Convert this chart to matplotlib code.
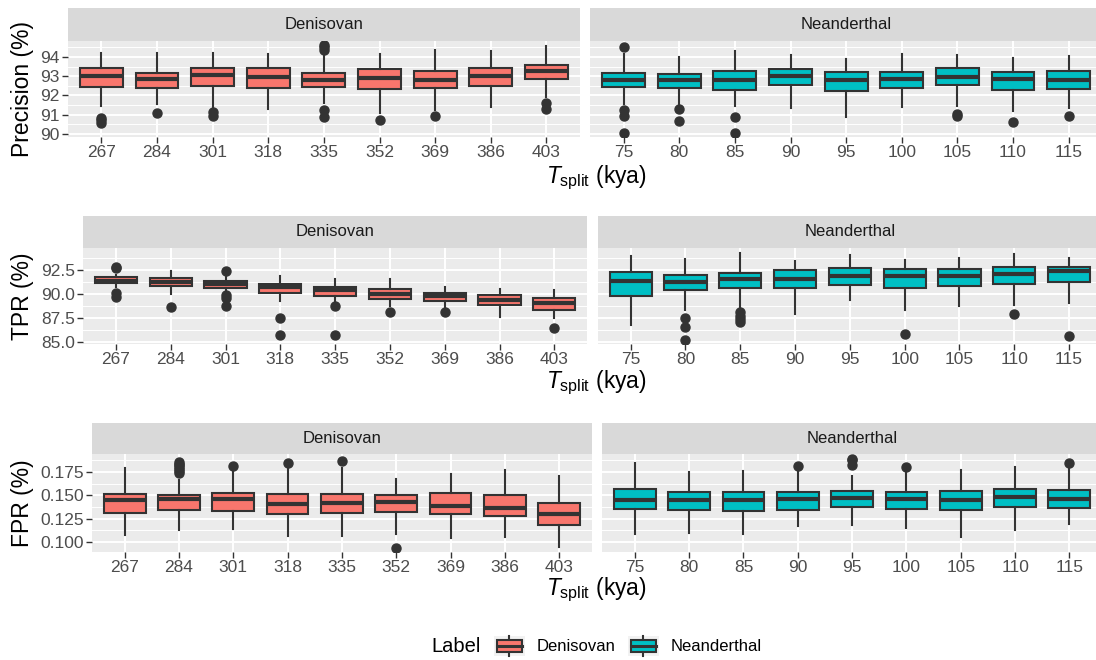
import matplotlib
matplotlib.use("Agg")
import matplotlib.pyplot as plt
from matplotlib.patches import Rectangle, Patch
from matplotlib.lines import Line2D
from matplotlib.legend_handler import HandlerBase

plt.rcParams["font.family"] = "Liberation Sans"
plt.rcParams["mathtext.fontset"] = "custom"
plt.rcParams["mathtext.rm"] = "Liberation Sans"
plt.rcParams["mathtext.it"] = "Liberation Sans:italic"

# T_split categories (kya)
den_tsplit = [267, 284, 301, 318, 335, 352, 369, 386, 403]
nea_tsplit = [75, 80, 85, 90, 95, 100, 105, 110, 115]

# box stats: (lower whisker, q1, median, q3, upper whisker)
prec_den_stats = [(91.46, 92.42, 93.00, 93.42, 94.22), (91.56, 92.37, 92.85, 93.19, 94.22),
                  (91.42, 92.50, 93.04, 93.42, 94.22), (91.30, 92.40, 92.97, 93.43, 94.14),
                  (91.63, 92.42, 92.80, 93.19, 94.09), (91.11, 92.32, 92.92, 93.35, 94.17),
                  (91.25, 92.37, 92.80, 93.26, 94.34), (91.42, 92.50, 93.00, 93.45, 94.31),
                  (91.90, 92.87, 93.26, 93.60, 94.57)]
prec_den_out = [[90.82, 90.70, 90.55], [91.11], [91.13, 90.94], [], [94.64, 94.52, 94.38, 91.25, 90.87],
                [90.74], [90.91], [], [91.63, 91.28]]
prec_nea_stats = [(91.56, 92.45, 92.80, 93.18, 94.14), (91.51, 92.38, 92.80, 93.14, 94.00),
                  (91.46, 92.28, 92.80, 93.28, 94.29), (91.34, 92.54, 93.02, 93.40, 94.09),
                  (90.86, 92.25, 92.78, 93.23, 93.90), (91.42, 92.37, 92.85, 93.23, 94.17),
                  (91.46, 92.52, 92.97, 93.42, 94.09), (91.18, 92.28, 92.83, 93.24, 93.97),
                  (91.34, 92.32, 92.80, 93.26, 94.03)]
prec_nea_out = [[94.52, 91.22, 90.91, 90.05], [91.29, 90.65], [90.86, 90.05], [], [], [],
                [91.04, 90.91], [90.60], [90.91]]

tpr_den_stats = [(90.75, 91.12, 91.39, 91.81, 91.95), (89.98, 90.84, 91.29, 91.70, 92.43),
                 (90.25, 90.67, 91.05, 91.36, 91.74), (89.32, 90.08, 90.70, 91.01, 91.88),
                 (89.22, 89.84, 90.43, 90.70, 91.57), (88.77, 89.46, 90.01, 90.50, 91.57),
                 (88.63, 89.29, 89.80, 90.08, 90.77), (87.66, 88.90, 89.39, 89.91, 90.56),
                 (87.49, 88.35, 89.04, 89.60, 90.43)]
tpr_den_out = [[92.85, 92.67, 90.15, 89.73], [88.70], [92.40, 89.90, 89.56, 88.80], [87.49, 85.76],
               [88.80, 85.69], [88.11], [88.11], [], [86.45]]
tpr_nea_stats = [(86.80, 89.80, 91.36, 92.26, 93.95), (88.35, 90.39, 91.29, 91.95, 93.61),
                 (88.70, 90.60, 91.57, 92.15, 94.30), (87.94, 90.63, 91.60, 92.47, 93.47),
                 (89.39, 90.98, 91.91, 92.71, 94.02), (88.35, 90.60, 91.91, 92.60, 93.50),
                 (88.77, 90.88, 91.91, 92.57, 93.71), (88.87, 91.01, 92.09, 92.81, 94.16),
                 (89.11, 91.26, 92.43, 92.81, 93.81)]
tpr_nea_out = [[], [87.56, 86.62, 85.21], [88.18, 87.76, 87.42, 87.07], [], [], [85.86], [],
               [87.97], [85.59]]

fpr_den_stats = [(0.1071, 0.1311, 0.1446, 0.1511, 0.1796), (0.1125, 0.1346, 0.1457, 0.1507, 0.1661),
                 (0.1136, 0.1332, 0.1457, 0.1529, 0.1775), (0.1061, 0.1296, 0.1411, 0.1518, 0.1796),
                 (0.1061, 0.1314, 0.1418, 0.1511, 0.1796), (0.1089, 0.1321, 0.1429, 0.1500, 0.1679),
                 (0.1046, 0.1304, 0.1389, 0.1525, 0.1725), (0.1054, 0.1275, 0.1364, 0.1500, 0.1768),
                 (0.0946, 0.1179, 0.1300, 0.1421, 0.1704)]
fpr_den_out = [[], [0.1855, 0.1840, 0.1820, 0.1800, 0.1780, 0.1760, 0.1740], [0.1814], [0.1850],
               [0.1868], [0.0936], [], [], []]
fpr_nea_stats = [(0.1089, 0.1354, 0.1454, 0.1571, 0.1846), (0.1100, 0.1346, 0.1454, 0.1532, 0.1754),
                 (0.1082, 0.1329, 0.1446, 0.1532, 0.1757), (0.1171, 0.1346, 0.1461, 0.1536, 0.1750),
                 (0.1179, 0.1371, 0.1475, 0.1546, 0.1711), (0.1154, 0.1350, 0.1461, 0.1532, 0.1750),
                 (0.1054, 0.1339, 0.1454, 0.1546, 0.1775), (0.1132, 0.1371, 0.1482, 0.1571, 0.1804),
                 (0.1189, 0.1364, 0.1457, 0.1554, 0.1796)]
fpr_nea_out = [[], [], [], [0.1811], [0.1893, 0.1875, 0.1829], [0.1804], [], [], [0.1850]]

DEN_COL = "#F8766D"
NEA_COL = "#00BFC4"
LINE_COL = "#333333"

W, H = 1096, 660
fig = plt.figure(figsize=(W / 100, H / 100), dpi=100)


def px_axes(x0, y0, x1, y1):
    return fig.add_axes([x0 / W, 1 - y1 / H, (x1 - x0) / W, (y1 - y0) / H])


def draw_panel(ax, cats, stats, outs, color, ylim, majors, minors, fmt, show_y):
    bstats = [dict(whislo=s[0], q1=s[1], med=s[2], q3=s[3], whishi=s[4], fliers=o)
              for s, o in zip(stats, outs)]
    ax.bxp(bstats, positions=range(len(cats)), widths=0.77, patch_artist=True, showcaps=False,
           boxprops=dict(facecolor=color, edgecolor=LINE_COL, linewidth=1.5),
           medianprops=dict(color=LINE_COL, linewidth=3.0),
           whiskerprops=dict(color=LINE_COL, linewidth=1.5),
           flierprops=dict(marker="o", markerfacecolor=LINE_COL, markeredgecolor=LINE_COL,
                           markersize=6.5))
    ax.set_xlim(-0.6, len(cats) - 0.4)
    ax.set_ylim(ylim)
    ax.set_xticks(range(len(cats)), [str(c) for c in cats])
    ax.set_yticks(majors, [fmt % v for v in majors])
    ax.set_yticks(minors, minor=True)
    ax.set_facecolor("#EBEBEB")
    ax.set_axisbelow(True)
    ax.grid(which="major", color="white", linewidth=1.4)
    ax.grid(which="minor", axis="y", color="white", linewidth=0.7)
    for sp in ax.spines.values():
        sp.set_visible(False)
    ax.tick_params(which="minor", length=0)
    ax.tick_params(which="major", length=4, width=1.0, color=LINE_COL, labelcolor="#4D4D4D",
                   labelsize=12.5, pad=2)
    if not show_y:
        ax.tick_params(axis="y", left=False, labelleft=False)


def draw_strip(x0, y0, x1, y1, name):
    sax = px_axes(x0, y0, x1, y1)
    sax.set_facecolor("#D9D9D9")
    sax.set_xticks([])
    sax.set_yticks([])
    for sp in sax.spines.values():
        sp.set_visible(False)
    sax.text(0.5, 0.5, name, ha="center", va="center", color="#1A1A1A", fontsize=12,
             transform=sax.transAxes)


rows = [
    ("Precision (%)", prec_den_stats, prec_den_out, prec_nea_stats, prec_nea_out,
     (89.84, 94.83), [90, 91, 92, 93, 94], [90.5, 91.5, 92.5, 93.5, 94.5], "%d"),
    ("TPR (%)", tpr_den_stats, tpr_den_out, tpr_nea_stats, tpr_nea_out,
     (84.8, 94.8), [85.0, 87.5, 90.0, 92.5], [86.25, 88.75, 91.25, 93.75], "%.1f"),
    ("FPR (%)", fpr_den_stats, fpr_den_out, fpr_nea_stats, fpr_nea_out,
     (0.0893, 0.1943), [0.100, 0.125, 0.150, 0.175], [0.1125, 0.1375, 0.1625, 0.1875], "%.3f"),
]

strip_top = [8, 216, 423]
panel_top = [41, 248, 454]
panel_bot = [137, 344, 552]
left_x = [68, 83, 92]
right_end = 1102
gap = 10.5
xlab_y = [178, 383, 590]

xlabel = r"$\mathit{T}_{\mathrm{split}}$ (kya)"

for i, (ylab, ds, do, ns, no, ylim, majors, minors, fmt) in enumerate(rows):
    pw = (right_end - left_x[i] - gap) / 2
    lx0, lx1 = left_x[i], left_x[i] + pw
    rx0, rx1 = lx1 + gap, right_end
    axl = px_axes(lx0, panel_top[i], lx1, panel_bot[i])
    axr = px_axes(rx0, panel_top[i], rx1, panel_bot[i])
    draw_panel(axl, den_tsplit, ds, do, DEN_COL, ylim, majors, minors, fmt, True)
    draw_panel(axr, nea_tsplit, ns, no, NEA_COL, ylim, majors, minors, fmt, False)
    draw_strip(lx0, strip_top[i], lx1, panel_top[i], "Denisovan")
    draw_strip(rx0, strip_top[i], rx1, panel_top[i], "Neanderthal")
    fig.text(22 / W, 1 - (panel_top[i] + panel_bot[i]) / 2 / H, ylab, rotation=90,
             ha="center", va="center", fontsize=16.5)
    fig.text(596 / W, 1 - xlab_y[i] / H, xlabel, ha="center", va="center", fontsize=16.5)


class BoxKey(HandlerBase):
    def create_artists(self, legend, orig_handle, xdescent, ydescent, width, height,
                       fontsize, trans):
        x0, y0 = -xdescent, -ydescent
        bg = Rectangle((x0, y0), width, height, facecolor="#F2F2F2", edgecolor="none",
                       transform=trans)
        cx = x0 + width / 2
        wl = Line2D([cx, cx], [y0, y0 + height], color=LINE_COL, linewidth=1.5, transform=trans)
        box = Rectangle((x0 + width * 0.1, y0 + height * 0.23), width * 0.8, height * 0.54,
                        facecolor=orig_handle.get_facecolor(), edgecolor=LINE_COL,
                        linewidth=1.5, transform=trans)
        med = Line2D([x0 + width * 0.1, x0 + width * 0.9], [y0 + height / 2] * 2,
                     color=LINE_COL, linewidth=2.2, transform=trans)
        return [bg, wl, box, med]


handles = [Patch(facecolor=DEN_COL), Patch(facecolor=NEA_COL)]
fig.legend(handles, ["Denisovan", "Neanderthal"], loc="center left",
           bbox_to_anchor=(494 / W, 1 - 646 / H), ncol=2, frameon=False, fontsize=12,
           handlelength=1.85, handleheight=1.55, handletextpad=0.7, columnspacing=0.75,
           borderpad=0, borderaxespad=0, handler_map={Patch: BoxKey()})
fig.text(431 / W, 1 - 646 / H, "Label", ha="left", va="center", fontsize=14.5)

fig.savefig("out.png", dpi=100)
